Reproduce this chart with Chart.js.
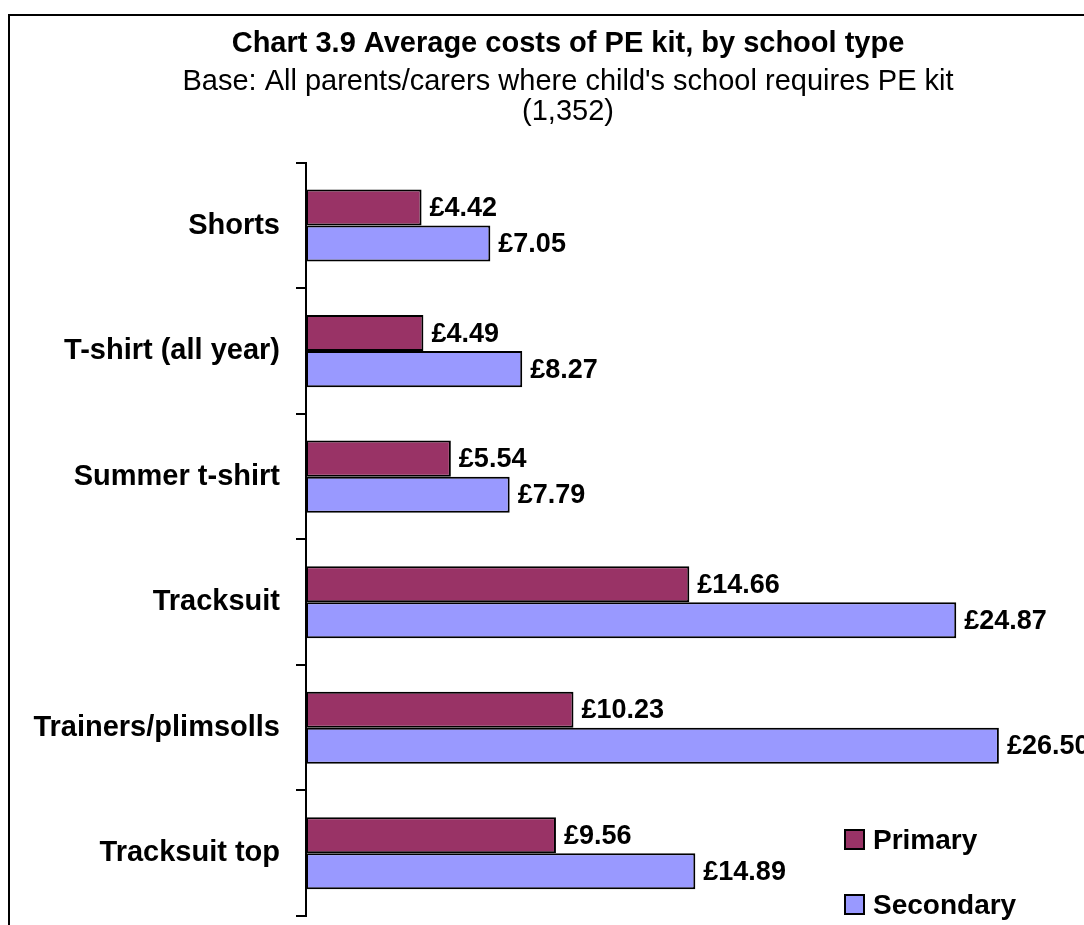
<!DOCTYPE html>
<html lang="en">
<head>
  <meta charset="UTF-8">
  <title>Chart 3.9 Average costs of PE kit, by school type</title>
  <script src="https://cdn.jsdelivr.net/npm/chart.js"></script>
</head>
<style>
  html, body { margin: 0; padding: 0; overflow: hidden; background: #fff; }
  .wrap { width: 1136px; height: 925px; }
</style>
<body>
<div class="wrap">
  <canvas id="kitChart" width="1136" height="925"></canvas>
</div>

<script>
  const categories = ['Shorts', 'T-shirt (all year)', 'Summer t-shirt', 'Tracksuit', 'Trainers/plimsolls', 'Tracksuit top'];
  const primaryCosts = [4.42, 4.49, 5.54, 14.66, 10.23, 9.56];
  const secondaryCosts = [7.05, 8.27, 7.79, 24.87, 26.50, 14.89];
  const seriesNames = ['Primary', 'Secondary'];
  const xMin = 0;
  const xMax = 31.4;

  const FONT = "'Liberation Sans', Arial, sans-serif";
  Chart.defaults.font.family = FONT;
  Chart.defaults.color = '#000';

  // outer frame round the whole chart
  const framePlugin = {
    id: 'frame',
    afterDraw(chart) {
      const ctx = chart.ctx;
      ctx.save();
      ctx.strokeStyle = '#000';
      ctx.lineWidth = 2;
      ctx.strokeRect(9, 15, 1118, 1000);
      ctx.restore();
    }
  };

  // £ value labels at the end of each bar
  const valueLabels = {
    id: 'valueLabels',
    afterDatasetsDraw(chart) {
      const ctx = chart.ctx;
      ctx.save();
      ctx.font = 'bold 27px ' + FONT;
      ctx.fillStyle = '#000';
      ctx.textAlign = 'left';
      ctx.textBaseline = 'middle';
      chart.data.datasets.forEach((ds, i) => {
        chart.getDatasetMeta(i).data.forEach((bar, j) => {
          ctx.fillText('£' + ds.data[j].toFixed(2), bar.x + 8, bar.y + 1);
        });
      });
      ctx.restore();
    }
  };

  // legend sitting inside the plot, bottom right
  const boxLegend = {
    id: 'boxLegend',
    afterDraw(chart) {
      const ctx = chart.ctx;
      const a = chart.chartArea;
      ctx.save();
      ctx.font = 'bold 28px ' + FONT;
      ctx.textBaseline = 'middle';
      chart.data.datasets.forEach((ds, i) => {
        const x = a.left + 539;
        const y = a.bottom - 86 + i * 65;
        ctx.fillStyle = ds.backgroundColor;
        ctx.fillRect(x, y, 19, 19);
        ctx.strokeStyle = '#000';
        ctx.lineWidth = 2;
        ctx.strokeRect(x, y, 19, 19);
        ctx.fillStyle = '#000';
        ctx.fillText(ds.label, x + 28, y + 11);
      });
      ctx.restore();
    }
  };

  const ctx = document.getElementById('kitChart').getContext('2d');
  new Chart(ctx, {
    type: 'bar',
    data: {
      labels: categories,
      datasets: [
        {
          label: seriesNames[0],
          data: primaryCosts,
          backgroundColor: '#993366',
          borderColor: '#000',
          borderWidth: 2,
          borderSkipped: false
        },
        {
          label: seriesNames[1],
          data: secondaryCosts,
          backgroundColor: '#9999FF',
          borderColor: '#000',
          borderWidth: 2,
          borderSkipped: false
        }
      ]
    },
    options: {
      indexAxis: 'y',
      responsive: false,
      animation: false,
      categoryPercentage: 0.574,
      barPercentage: 1.0,
      layout: {
        padding: { left: 9, right: 9, top: 15, bottom: 9 }
      },
      plugins: {
        legend: { display: false },
        tooltip: { enabled: false },
        title: {
          display: true,
          text: 'Chart 3.9 Average costs of PE kit, by school type',
          font: { size: 29, weight: 'bold' },
          lineHeight: 1.2,
          padding: { top: 12, bottom: 0 }
        },
        subtitle: {
          display: true,
          text: ["Base: All parents/carers where child's school requires PE kit", '(1,352)'],
          font: { size: 29, weight: 'normal', lineHeight: '30px' },
          padding: { top: 5, bottom: 36 }
        }
      },
      scales: {
        x: {
          display: false,
          min: xMin,
          max: xMax
        },
        y: {
          afterFit(scale) {
            scale.width = 297;
            scale.paddingTop = 0;
            scale.paddingBottom = 0;
          },
          border: { display: true, color: '#000', width: 2 },
          grid: {
            drawOnChartArea: false,
            color: '#000',
            lineWidth: 2,
            tickLength: 10
          },
          ticks: {
            padding: 16,
            font: { size: 29, weight: 'bold' }
          }
        }
      }
    },
    plugins: [framePlugin, valueLabels, boxLegend]
  });
</script>
</body>
</html>
